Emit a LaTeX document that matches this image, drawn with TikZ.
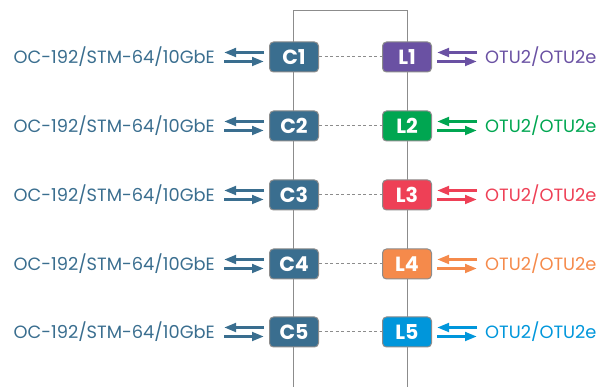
\documentclass[tikz,border=0pt]{standalone}
\usepackage{fontspec}
\setmainfont{Poppins}
\usetikzlibrary{arrows.meta}
\definecolor{cblue}{HTML}{3A6E8F}
\definecolor{lpurple}{HTML}{6A51A3}
\definecolor{lgreen}{HTML}{00A651}
\definecolor{lred}{HTML}{EE4056}
\definecolor{lorange}{HTML}{F58A4B}
\definecolor{lblue}{HTML}{0096DB}
\definecolor{edge}{HTML}{8C8C8C}
\tikzset{
  box/.style={draw=edge, line width=1pt, rounded corners=4pt, minimum width=49pt, minimum height=30pt, inner sep=0pt, text=white, font=\fontsize{20.5}{20.5}\selectfont\bfseries},
  lbl/.style={inner sep=0pt, font=\fontsize{17.8}{18}\selectfont},
  arr/.style={line width=3pt, -{Triangle[length=12pt,width=8.5pt]}},
  frame/.style={draw=edge, line width=1pt},
  dots/.style={draw=edge, line width=1pt, dash pattern=on 3pt off 2.5pt}
}
\begin{document}
\begin{tikzpicture}[x=1pt,y=-1pt]
\useasboundingbox (0,0) rectangle (603,387);
\coordinate (tl) at (293.5,11);
\coordinate (tr) at (407.5,11);
\coordinate (bl) at (293.5,387);
\coordinate (br) at (407.5,387);
\draw[frame] (bl) -- (tl) -- (tr) -- (br);
\foreach \i/\y/\col in {1/57/lpurple,2/126/lgreen,3/195/lred,4/264/lorange,5/332/lblue}{
  \node[box, fill=cblue] (c\i) at (294,\y) {C\i};
  \node[box, fill=\col] (l\i) at (407,\y) {L\i};
  \draw[dots] (c\i.east) -- (l\i.west);
  \node[lbl, text=cblue, anchor=east] (t\i) at (215,\y) {OC-192/STM-64/10GbE};
  \node[lbl, text=\col, anchor=west] (u\i) at (485,\y) {OTU2/OTU2e};
  \coordinate (a\i) at (264,\y-4.5);
  \coordinate (b\i) at (224,\y-4.5);
  \coordinate (d\i) at (224,\y+4.5);
  \coordinate (e\i) at (264,\y+4.5);
  \draw[arr, draw=cblue, fill=cblue] (a\i) -- (b\i);
  \draw[arr, draw=cblue, fill=cblue] (d\i) -- (e\i);
  \coordinate (f\i) at (477,\y-4.5);
  \coordinate (g\i) at (437,\y-4.5);
  \coordinate (h\i) at (437,\y+4.5);
  \coordinate (k\i) at (477,\y+4.5);
  \draw[arr, draw=\col, fill=\col] (f\i) -- (g\i);
  \draw[arr, draw=\col, fill=\col] (h\i) -- (k\i);
}
\end{tikzpicture}
\end{document}
